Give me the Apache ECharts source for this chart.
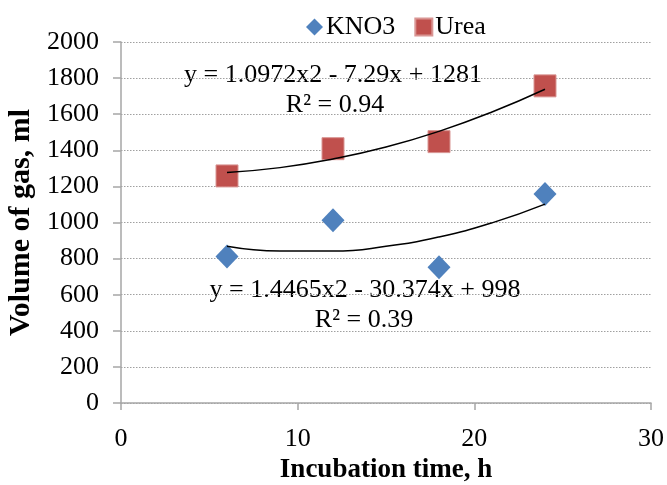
<!DOCTYPE html>
<html>
<head>
<meta charset="utf-8">
<script src="https://cdn.jsdelivr.net/npm/echarts@6/dist/echarts.min.js"></script>
<style>html,body{margin:0;padding:0;background:#fff}#c{width:667px;height:485px}</style>
</head>
<body>
<div id="c"></div>
<script>
const hours = [6, 12, 18, 24];
const kno3 = [812, 1012, 752, 1158];
const urea = [1258, 1409, 1448, 1757];
// trendline curves
const trendHours = [6, 9, 12, 15, 18, 21, 24];
const kno3Trend = [868, 842, 842, 868, 920, 998, 1102];
const ureaTrend = [1277, 1304, 1352, 1418, 1505, 1612, 1738];
const yTicks = [0, 200, 400, 600, 800, 1000, 1200, 1400, 1600, 1800, 2000];
const xTicks = [0, 10, 20, 30];
const eqUrea = ['y = 1.0972x2 - 7.29x + 1281', 'R\u00B2 = 0.94'];
const eqKno3 = ['y = 1.4465x2 - 30.374x + 998', 'R\u00B2 = 0.39'];

const FONT = '"Liberation Serif", "Times New Roman", serif';
const chart = echarts.init(document.getElementById('c'), null, {renderer: 'canvas'});
const pair = (xs, ys) => xs.map((x, i) => [x, ys[i]]);

chart.setOption({
  animation: false,
  backgroundColor: '#fff',
  textStyle: {fontFamily: FONT},
  grid: {left: 121, right: 16, top: 42, bottom: 82, containLabel: false, outerBoundsMode: 'none'},
  legend: {
    left: 301, top: 9,
    itemWidth: 17, itemHeight: 17, itemGap: 19,
    textStyle: {fontFamily: FONT, fontSize: 26, color: '#000', padding: [0, 0, 0, -2]},
    data: [{name: 'KNO3', icon: 'diamond'}, {name: 'Urea', icon: 'rect'}]
  },
  xAxis: {
    type: 'value', min: xTicks[0], max: xTicks[xTicks.length - 1], interval: 10,
    name: 'Incubation time, h', nameLocation: 'middle', nameGap: 54,
    nameTextStyle: {fontFamily: FONT, fontSize: 27, fontWeight: 'bold', color: '#000'},
    axisLine: {show: true, lineStyle: {color: '#A6A6A6', width: 1.5}},
    axisTick: {show: true, length: 7, lineStyle: {color: '#A6A6A6', width: 1.5}},
    axisLabel: {fontFamily: FONT, fontSize: 26, color: '#000', margin: 23, formatter: v => String(v)},
    splitLine: {show: false}
  },
  yAxis: {
    type: 'value', min: yTicks[0], max: yTicks[yTicks.length - 1], interval: 200,
    name: 'Volume of gas, ml', nameLocation: 'middle', nameGap: 82,
    nameTextStyle: {fontFamily: FONT, fontSize: 30, fontWeight: 'bold', color: '#000'},
    axisLine: {show: true, lineStyle: {color: '#A6A6A6', width: 1.5}},
    axisTick: {show: true, length: 8, lineStyle: {color: '#A6A6A6', width: 1.5}},
    axisLabel: {fontFamily: FONT, fontSize: 26, color: '#000', margin: 22, formatter: v => String(v)},
    splitLine: {show: true, lineStyle: {color: '#A0A0A0', width: 1, type: [1.5, 1.5]}}
  },
  series: [
    {
      name: 'KNO3 trend', type: 'line', data: pair(trendHours, kno3Trend), smooth: true,
      showSymbol: false, symbol: 'none', lineStyle: {color: '#000', width: 1.5}, z: 3, silent: true
    },
    {
      name: 'Urea trend', type: 'line', data: pair(trendHours, ureaTrend), smooth: true,
      showSymbol: false, symbol: 'none', lineStyle: {color: '#000', width: 1.5}, z: 3, silent: true
    },
    {
      name: 'KNO3', type: 'scatter', data: pair(hours, kno3), symbol: 'diamond', symbolSize: [23, 24],
      itemStyle: {color: '#4F81BD', opacity: 1}, z: 2
    },
    {
      name: 'Urea', type: 'scatter', data: pair(hours, urea), symbol: 'rect', symbolSize: 22,
      itemStyle: {color: '#C0504D', borderColor: '#D99694', borderWidth: 1, opacity: 1}, z: 2
    }
  ],
  graphic: [
    {type: 'text', position: [333, 62], style: {text: eqUrea[0], font: '26px ' + FONT, fill: '#000', textAlign: 'center'}},
    {type: 'text', position: [335, 92], style: {text: eqUrea[1], font: '26px ' + FONT, fill: '#000', textAlign: 'center'}},
    {type: 'text', position: [365, 277], style: {text: eqKno3[0], font: '26px ' + FONT, fill: '#000', textAlign: 'center'}},
    {type: 'text', position: [364, 307], style: {text: eqKno3[1], font: '26px ' + FONT, fill: '#000', textAlign: 'center'}}
  ]
});
</script>
</body>
</html>
